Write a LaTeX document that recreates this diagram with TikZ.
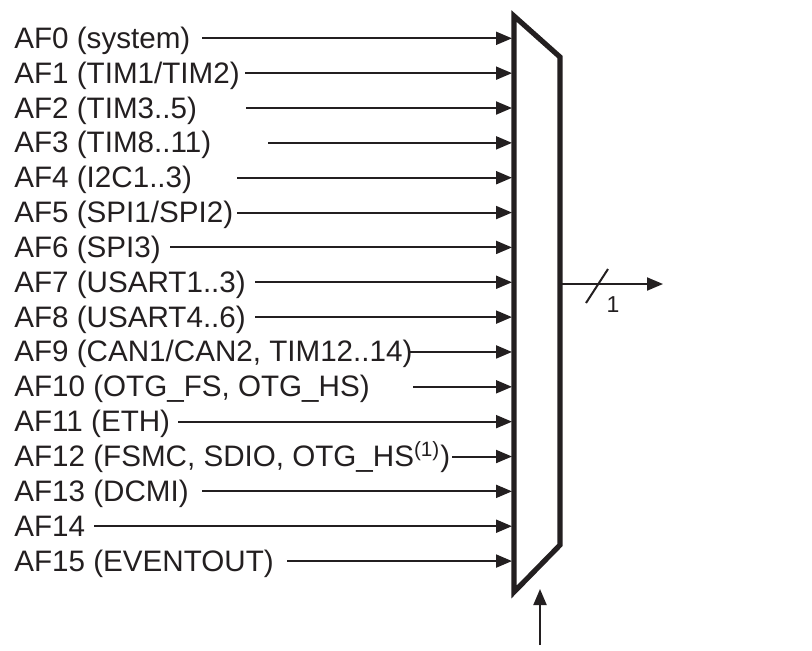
\documentclass[tikz,border=0pt]{standalone}
\usepackage{fontspec}
\setmainfont{Liberation Sans}
\usetikzlibrary{arrows.meta}
\definecolor{ink}{HTML}{231F20}
\tikzset{
    afname/.style={anchor=base west, inner sep=0pt, text=ink, font=\fontsize{14.8}{17}\selectfont},
    arrow/.style={line width=1pt, draw=ink, -{Triangle[length=8pt, width=6.5pt]}},
    mux/.style={line width=2.6pt, draw=ink, line join=miter},
    busmark/.style={line width=1pt, draw=ink}
}

\begin{document}
\begin{tikzpicture}[x=0.5pt, y=-0.5pt]
\useasboundingbox (0,0) rectangle (812,650);

% Multiplexer body
\draw[mux] (514,16) -- (560,57) -- (560,545) -- (514,592) -- cycle;

% Alternate function inputs
\foreach \i/\sx/\txt in {
    0/202/{AF0 (system)},
    1/245/{AF1 (TIM1/TIM2)},
    2/246/{AF2 (TIM3..5)},
    3/268/{AF3 (TIM8..11)},
    4/237/{AF4 (I2C1..3)},
    5/237/{AF5 (SPI1/SPI2)},
    6/170/{AF6 (SPI3)},
    7/255/{AF7 (USART1..3)},
    8/255/{AF8 (USART4..6)},
    9/410/{AF9 (CAN1/CAN2, TIM12..14)},
    10/413/{AF10 (OTG\_FS, OTG\_HS)},
    11/178/{AF11 (ETH)},
    12/452/{AF12 (FSMC, SDIO, OTG\_HS\textsuperscript{(1)})},
    13/202/{AF13 (DCMI)},
    14/94/{AF14},
    15/287/{AF15 (EVENTOUT)}}{
    \pgfmathsetmacro\yy{38.3+34.85*\i}
    \node[afname] (af\i) at (14,\yy+10) {\txt};
    \coordinate (s\i) at (\sx,\yy);
    \coordinate (m\i) at (512,\yy);
    \draw[arrow] (s\i) -- (m\i);
}

% Output (1 bit)
\coordinate (muxout) at (560,284);
\coordinate (out) at (663,284);
\draw[arrow] (muxout) -- (out);
\draw[busmark] (586,303) -- (608,269);
\node[inner sep=0pt, text=ink, font=\fontsize{11.5}{13}\selectfont] (width) at (613,305) {1};

% Select input
\coordinate (sel) at (540,645);
\coordinate (muxsel) at (540,589);
\draw[arrow] (sel) -- (muxsel);

\end{tikzpicture}
\end{document}
